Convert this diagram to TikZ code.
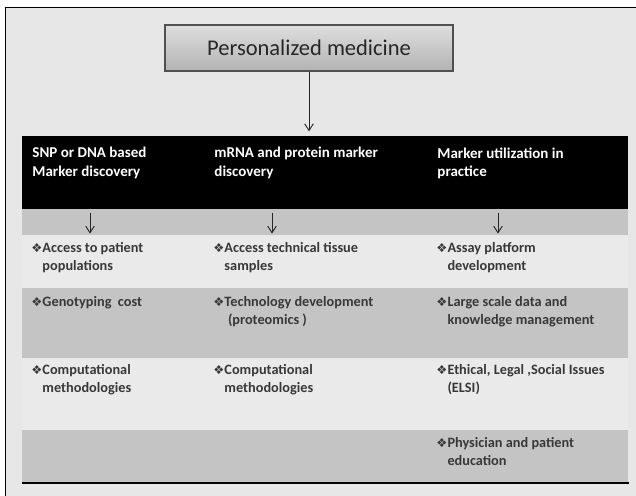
\documentclass[tikz,border=0pt]{standalone}
\usepackage{fontspec}
\setmainfont{Carlito}
\newfontfamily\symfont{DejaVu Sans}
\usetikzlibrary{arrows.meta, positioning, calc}
\definecolor{cframe}{HTML}{E7E7E7}
\definecolor{clight}{HTML}{EAEAEA}
\definecolor{cband}{HTML}{C4C4C4}
\definecolor{ctext}{HTML}{383838}
\definecolor{cedge}{HTML}{505050}
\tikzset{
  every picture/.style={line width=0.8pt},
  item/.style={anchor=north west, align=left, inner sep=0pt, text=ctext, font=\bfseries\fontsize{12.2}{15.3}\selectfont},
  head/.style={anchor=north west, align=left, inner sep=0pt, text=white, font=\bfseries\fontsize{12.8}{15.6}\selectfont},
  arrow/.style={-{Straight Barb[length=2mm, width=2.6mm]}, draw=black!85, line width=0.8pt},
  title/.style={draw=cedge, line width=1.1pt, top color=gray!26, bottom color=gray!60, minimum width=8.64cm, minimum height=1.38cm, text=black!85, font=\fontsize{19.2}{22}\selectfont},
}
\newcommand{\bul}{{\symfont\fontsize{10.5}{10.5}\selectfont ❖}}
\newcommand{\ind}{\hphantom{\bul}}

\begin{document}
\begin{tikzpicture}[x=0.03cm, y=-0.03cm, band/.style={fill=#1, minimum width=18.18cm, inner sep=0pt, anchor=north west}]
  \useasboundingbox (0,0) rectangle (636,495);
  % frame
  \draw[line width=0.6pt, fill=cframe] (5,7) rectangle (660,520);
  \node[title] (pm) at (309,48) {Personalized medicine};
  % the table
  \node[band=black, minimum height=2.19cm] (head) at (22,136) {};
  \node[band=cband, minimum height=0.78cm] (arr) at (22,209) {};
  \node[band=clight, minimum height=1.59cm] (r1) at (22,235) {};
  \node[band=cband, minimum height=2.1cm] (r2) at (22,288) {};
  \node[band=clight, minimum height=2.16cm] (r3) at (22,358) {};
  \node[band=cband, minimum height=1.56cm] (r4) at (22,430) {};
  \draw[line width=2.4pt] (r4.south west) -- (r4.south east);
  % headings
  \node[head] (h1) at (32,147) {SNP or DNA based\\Marker discovery};
  \node[head] (h2) at (214,147) {mRNA and protein marker\\discovery};
  \node[head] (h3) at (437,147) {Marker utilization in\\practice};
  % arrows
  \coordinate (c1) at (90,0);
  \coordinate (c2) at (272,0);
  \coordinate (c3) at (498,0);
  \draw[arrow, shorten >=4pt] (pm.south) -- (pm.south |- head.north);
  \foreach \c in {c1,c2,c3}
    \draw[arrow, shorten <=3pt, shorten >=2pt] (arr.north -| \c) -- (arr.south -| \c);
  % items
  \node[item] (a1) at (31,242) {\bul Access to patient\\\ind populations};
  \node[item] (a2) at (213,242) {\bul Access technical tissue\\\ind samples};
  \node[item] (a3) at (436,242) {\bul Assay platform\\\ind development};
  \node[item] (b1) at (31,296) {\bul Genotyping~ cost};
  \node[item] (b2) at (213,296) {\bul Technology development\\\ind\hspace*{3pt}(proteomics )};
  \node[item] (b3) at (436,296) {\bul Large scale data and\\\ind knowledge management};
  \node[item] (d1) at (31,364) {\bul Computational\\\ind methodologies};
  \node[item] (d2) at (213,364) {\bul Computational\\\ind methodologies};
  \node[item] (d3) at (436,364) {\bul Ethical, Legal ,Social Issues\\\ind (ELSI)};
  \node[item] (e3) at (436,437) {\bul Physician and patient\\\ind education};
\end{tikzpicture}
\end{document}
